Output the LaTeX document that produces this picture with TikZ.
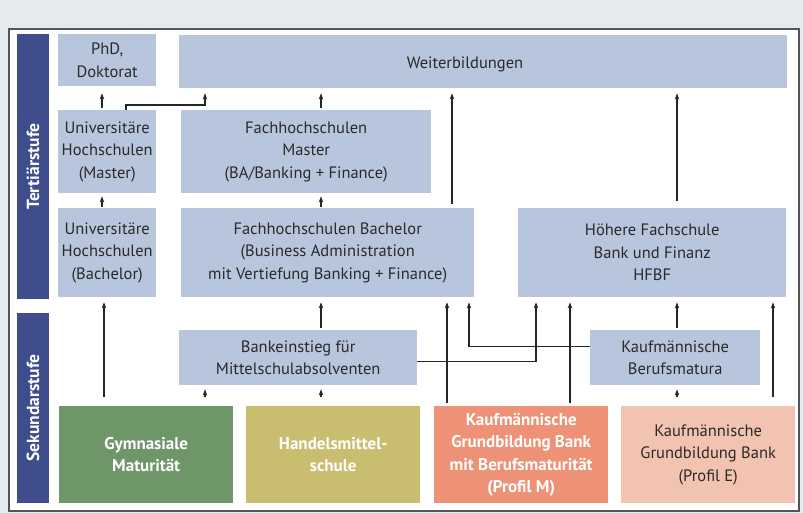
\documentclass[tikz,border=0pt]{standalone}
\usepackage{fontspec}
\setmainfont{PT Sans}
\usetikzlibrary{arrows.meta}
\definecolor{hintergrund}{HTML}{E5EAEF}
\definecolor{rahmen}{HTML}{555555}
\definecolor{feldblau}{HTML}{B8C6DD}
\definecolor{stufenblau}{HTML}{3F4D8D}
\definecolor{gymgruen}{HTML}{6E9669}
\definecolor{hmsoliv}{HTML}{C9BD6F}
\definecolor{profmlachs}{HTML}{EE9277}
\definecolor{proferosa}{HTML}{F2C3B0}
\definecolor{linie}{HTML}{262626}
\definecolor{schrift}{HTML}{2A2A2A}
\begin{document}
\begin{tikzpicture}[x=1pt,y=-1pt,
  stufe/.style={fill=stufenblau,rotate=90,inner sep=0pt,text=white,
    font=\fontsize{17.5}{20}\selectfont\bfseries},
  feld/.style={fill=feldblau,anchor=north west,inner sep=0pt,align=center,
    text=schrift,font=\fontsize{16.5}{22.5}\selectfont},
  schule/.style={feld,text=white,font=\fontsize{17}{22.5}\selectfont\bfseries},
  pfeil/.style={draw=linie,line width=1.1pt,-{Stealth[length=6pt,width=4.5pt]},
    shorten >=5pt}]
\fill [hintergrund] (0,0) rectangle (803,513);
\filldraw [fill=white,draw=rahmen,line width=1.2pt] (9,29) rectangle (799,511);
% Stufen
\node [stufe,minimum width=265pt,minimum height=32pt] (tert) at (33,166.5) {Tertiärstufe};
\node [stufe,minimum width=190pt,minimum height=32pt] (sek) at (33,408) {Sekundarstufe};
% Tertiaerstufe
\node [feld,minimum width=98pt,minimum height=52pt] (phd) at (58,34) {PhD,\\Doktorat};
\node [feld,minimum width=608pt,minimum height=53pt] (wb) at (179,35) {};
\node [font=\fontsize{16.5}{22.5}\selectfont,text=schrift] (wbtext) at (465,64) {Weiterbildungen};
\node [feld,minimum width=98pt,minimum height=83pt] (uhm) at (58,110)
  {Universitäre\\Hochschulen\\(Master)};
\node [feld,minimum width=250pt,minimum height=83pt] (fhm) at (181,110)
  {Fachhochschulen\\Master\\(BA/Banking + Finance)};
\node [feld,minimum width=98pt,minimum height=89pt] (uhb) at (58,208)
  {Universitäre\\Hochschulen\\(Bachelor)};
\node [feld,minimum width=293pt,minimum height=89pt] (fhb) at (181,208)
  {Fachhochschulen Bachelor\\(Business Administration\\mit Vertiefung Banking + Finance)};
\node [feld,minimum width=268pt,minimum height=89pt] (hfbf) at (518,208)
  {Höhere Fachschule\\Bank und Finanz\\HFBF};
% Sekundarstufe
\node [feld,minimum width=238pt,minimum height=55pt] (bank) at (179,330)
  {Bankeinstieg für\\Mittelschulabsolventen};
\node [feld,minimum width=170pt,minimum height=55pt] (bm) at (590,330)
  {Kaufmännische\\Berufsmatura};
\node [schule,fill=gymgruen,minimum width=174pt,minimum height=97pt] (gym) at (59,406)
  {Gymnasiale\\Maturität};
\node [schule,fill=hmsoliv,minimum width=174pt,minimum height=97pt] (hms) at (246,406)
  {Handelsmittel-\\schule};
\node [schule,fill=profmlachs,minimum width=174pt,minimum height=97pt] (profm) at (434,406)
  {Kaufmännische\\Grundbildung Bank\\mit Berufsmaturität\\(Profil M)};
\node [feld,fill=proferosa,minimum width=174pt,minimum height=97pt] (profe) at (621,406)
  {Kaufmännische\\Grundbildung Bank\\(Profil E)};
% Spalten der Pfeile
\coordinate (sA) at (102,0);
\coordinate (sB) at (126,0);
\coordinate (sC) at (205,0);
\coordinate (sD) at (321,0);
\coordinate (sE) at (452,0);
\coordinate (sF) at (677,0);
\coordinate (sG) at (104,0);
\coordinate (sH) at (447,0);
\coordinate (sI) at (469,0);
\coordinate (sJ) at (536,0);
\coordinate (sK) at (570,0);
\coordinate (sL) at (773,0);
% Pfeile
\draw [pfeil,shorten <=2pt,shorten >=7pt] (uhm.north -| sA) -- (phd.south -| sA);
\draw [pfeil] (uhm.north -| sB) -- ++(0,-5) -| (wb.south -| sC);
\draw [pfeil,shorten <=2pt] (fhm.north -| sD) -- (wb.south -| sD);
\draw [pfeil,shorten <=1pt,shorten >=3pt] (uhb.north -| sA) -- (uhm.south -| sA);
\draw [pfeil,shorten <=1pt,shorten >=3pt] (fhb.north -| sD) -- (fhm.south -| sD);
\draw [pfeil,shorten <=4pt] (fhb.north -| sE) -- (wb.south -| sE);
\draw [pfeil,shorten <=7pt] (hfbf.north -| sF) -- (wb.south -| sF);
\draw [pfeil,shorten <=9pt] (gym.north -| sG) -- (uhb.south -| sG);
\draw [pfeil,shorten <=9pt,shorten >=4pt] (gym.north -| sC) -- (bank.south -| sC);
\draw [pfeil,shorten <=9pt,shorten >=4pt] (hms.north -| sD) -- (bank.south -| sD);
\draw [pfeil,shorten <=2pt] (bank.north -| sD) -- (fhb.south -| sD);
\draw [pfeil,shorten <=3pt] (profm.north -| sH) -- (fhb.south -| sH);
\draw [pfeil] ([yshift=-3.5pt]bank.east) -| (hfbf.south -| sJ);
\draw [pfeil] ([yshift=11.5pt]bm.west) -| (fhb.south -| sI);
\draw [pfeil,shorten <=3pt] (profm.north -| sK) -- (hfbf.south -| sK);
\draw [pfeil,shorten <=2pt] (bm.north -| sF) -- (hfbf.south -| sF);
\draw [pfeil,shorten <=9pt,shorten >=4pt] (profe.north -| sF) -- (bm.south -| sF);
\draw [pfeil,shorten <=9pt] (profe.north -| sL) -- (hfbf.south -| sL);
\end{tikzpicture}
\end{document}
